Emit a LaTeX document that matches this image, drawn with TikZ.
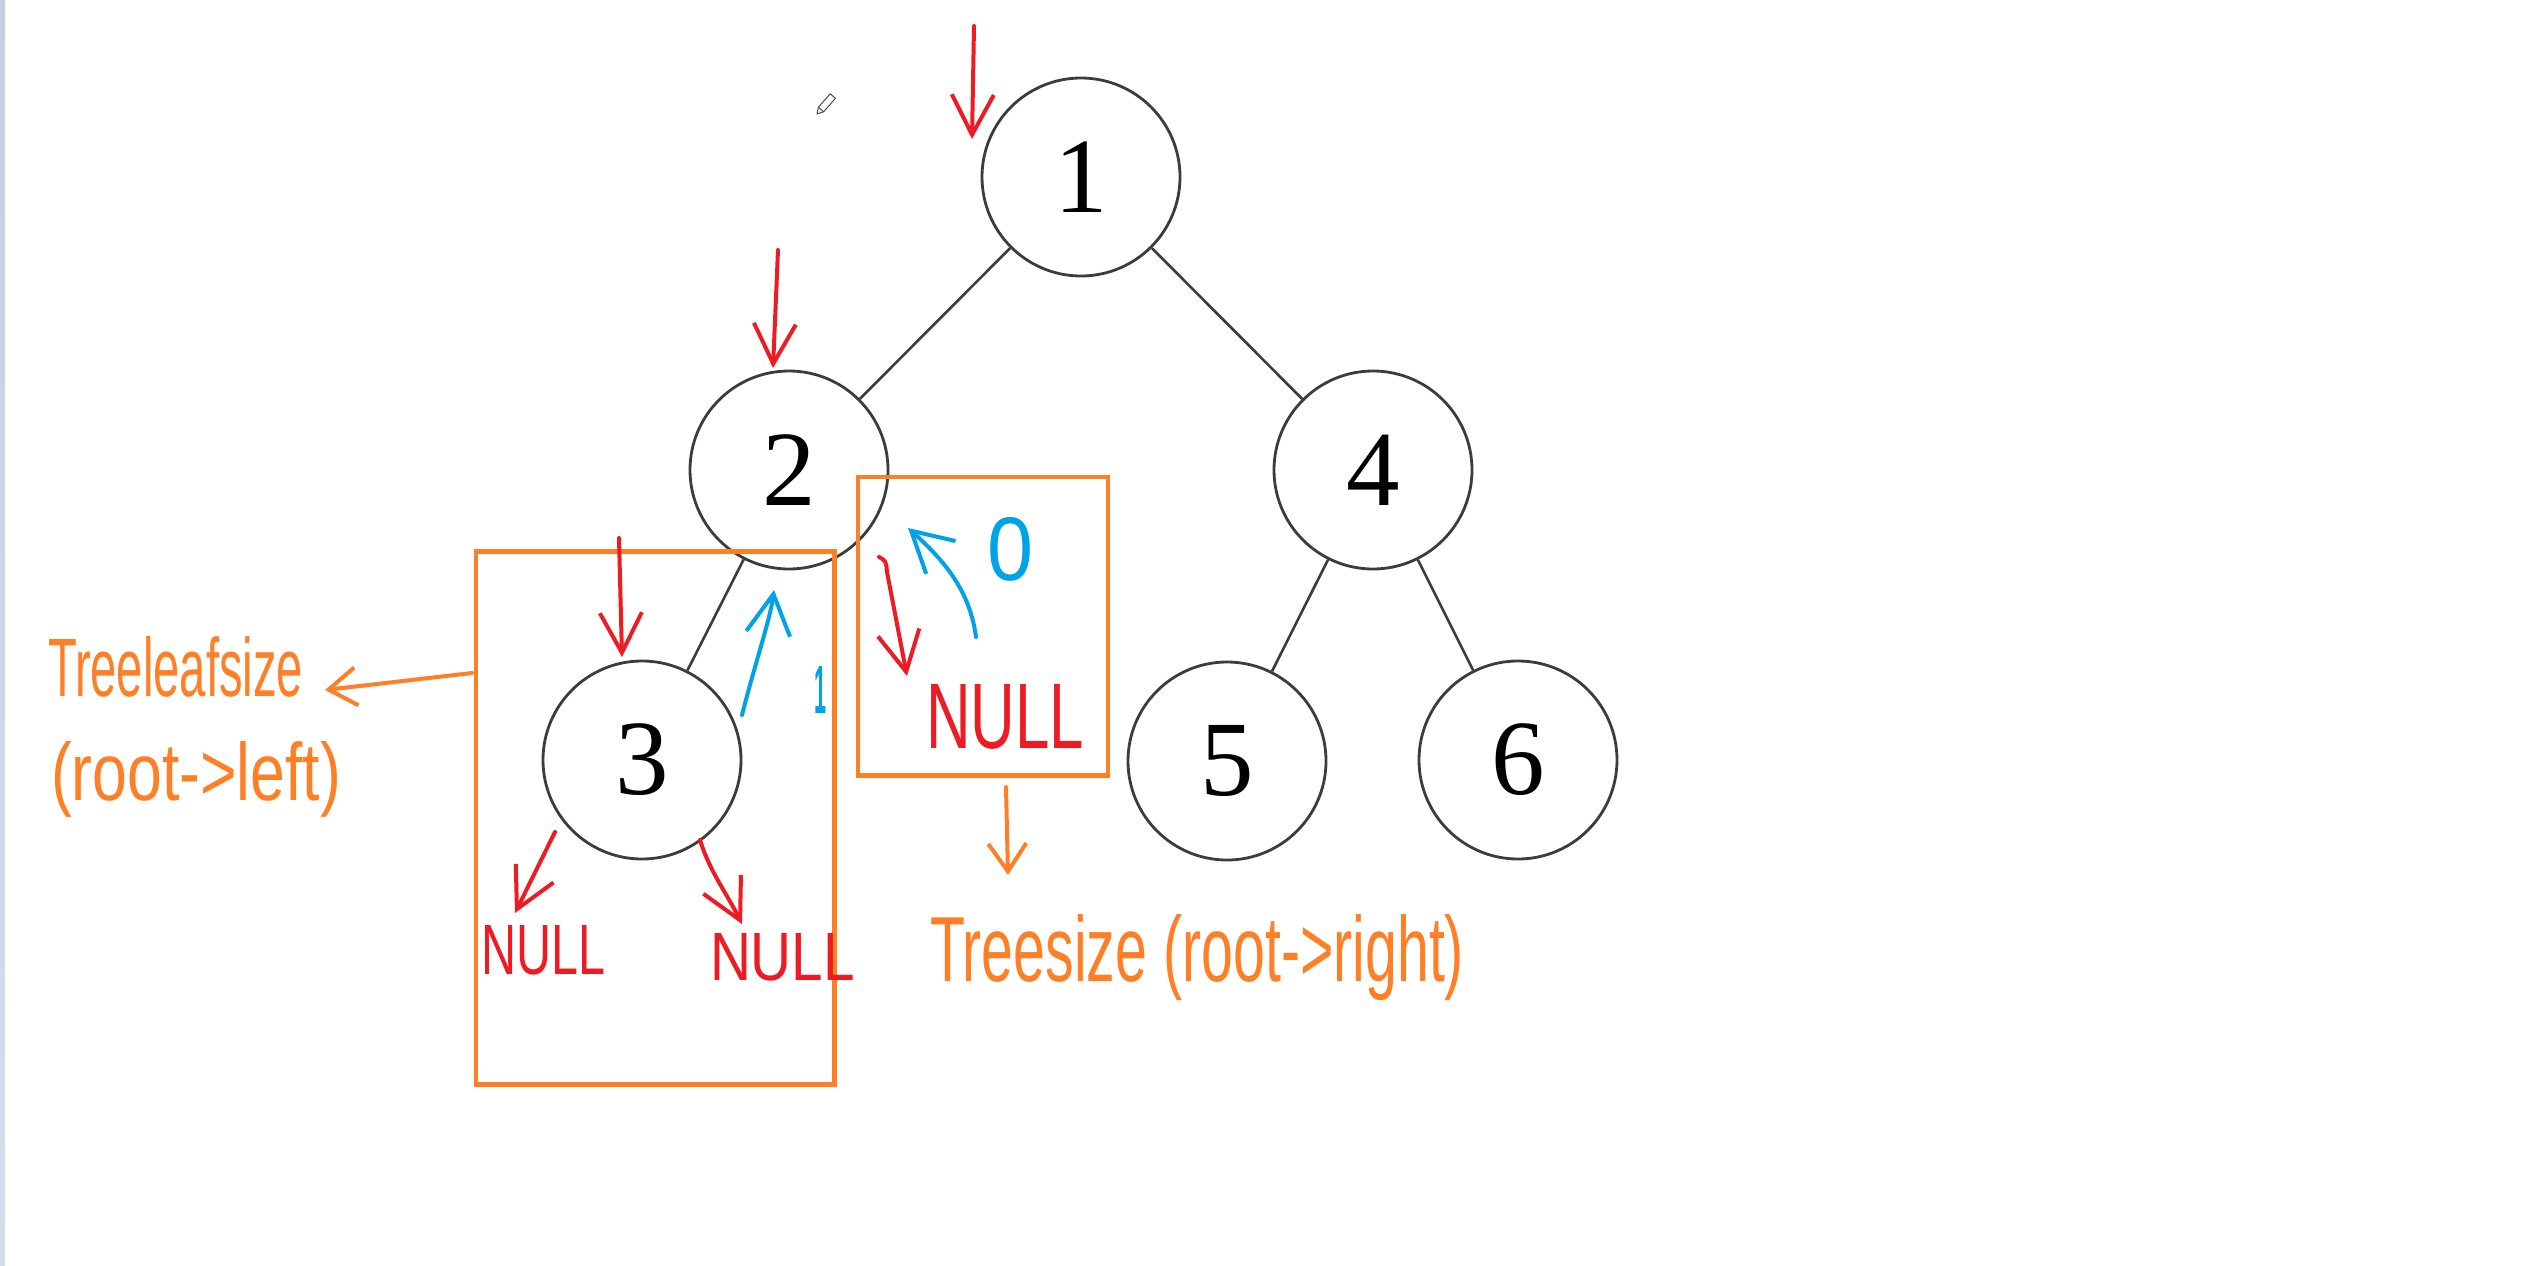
\documentclass[tikz,border=0pt]{standalone}
\usepackage{fontspec}
\usepackage{graphicx}
\setmainfont{Liberation Serif}
\newfontfamily\handfont{Liberation Sans}
\usetikzlibrary{arrows.meta}
\definecolor{penred}{RGB}{237,28,36}
\definecolor{penblue}{RGB}{0,162,232}
\definecolor{penorange}{RGB}{255,127,39}
\definecolor{treegray}{RGB}{60,60,60}
\definecolor{stripetop}{RGB}{197,207,224}
\definecolor{stripebot}{RGB}{214,222,235}
\begin{document}
\begin{tikzpicture}[x=1pt,y=-1pt,
  treenode/.style={circle, draw=treegray, line width=2.8pt, minimum size=198pt, inner sep=0pt,
    font=\fontsize{107}{120}\selectfont},
  edge/.style={draw=treegray, line width=2.6pt},
  obox/.style={draw=penorange, line width=4.8pt, inner sep=0pt},
  hand/.style={inner sep=0pt, outer sep=0pt, anchor=base west},
  redpen/.style={draw=penred, line width=4pt, line cap=round, line join=round,
    -{Straight Barb[length=40pt,width=42pt]}},
  bluepen/.style={draw=penblue, line width=4pt, line cap=round, line join=round,
    -{Straight Barb[length=40pt,width=44pt]}},
  orangepen/.style={draw=penorange, line width=4pt, line cap=round, line join=round,
    -{Straight Barb[length=28pt,width=38pt]}}]
\useasboundingbox (0,0) rectangle (2530,1266);
\fill[white] (0,0) rectangle (2530,1266);
\shade[top color=stripetop, bottom color=stripebot] (0,0) rectangle (5,1266);

% tree
\node[treenode] (n1) at (1081,177) {1};
\node[treenode] (n2) at (789,470) {2};
\node[treenode] (n4) at (1373,470) {4};
\node[treenode] (n3) at (642,760) {3};
\node[treenode] (n5) at (1227,761) {5};
\node[treenode] (n6) at (1518,760) {6};
\draw[edge] (n1) -- (n2);
\draw[edge] (n1) -- (n4);
\draw[edge] (n2) -- (n3);
\draw[edge] (n4) -- (n5);
\draw[edge] (n4) -- (n6);

% pencil cursor
\draw[draw=black!70, fill=white, line width=1pt, line join=round]
  (817,114) -- (823.6,111.8) -- (835.4,98.3) -- (830.2,93.7) -- (818.4,107.2) -- cycle;
\draw[draw=black!70, line width=1pt] (823.6,111.8) -- (818.4,107.2);

% orange boxes
\node[obox, minimum width=358.5pt, minimum height=533.5pt] (boxA) at (655.2,818.1) {};
\node[obox, minimum width=250pt, minimum height=298.6pt] (boxB) at (982.9,626.3) {};

% red pointer arrows
\coordinate (r1s) at (974,26);   \coordinate (r1e) at (972,139);
\coordinate (r2s) at (778,250);  \coordinate (r2e) at (773,368);
\coordinate (r3s) at (619,538);  \coordinate (r3e) at (622,657);
\draw[redpen] (r1s) -- (r1e);
\draw[redpen] (r2s) -- (r2e);
\draw[redpen] (r3s) -- (r3e);

% arrows from node 3 to NULLs
\coordinate (l3s) at (555,832);  \coordinate (l3e) at (515,913);
\coordinate (r3bs) at (700,840); \coordinate (r3be) at (742,924);
\draw[redpen] (l3s) -- (l3e);
\draw[redpen] (r3bs) .. controls (710,872) and (726,892) .. (r3be);

% blue return arrow from 3 to 2
\coordinate (b1s) at (742,715);  \coordinate (b1e) at (774,590);
\draw[bluepen] (b1s) .. controls (756,660) and (770,620) .. (b1e);

% box B arrows
\coordinate (rbs) at (879,557);  \coordinate (rbe) at (907,676);
\draw[redpen] (rbs) .. controls (886,561) .. (887,572) -- (rbe);
\coordinate (bbs) at (976,637);  \coordinate (bbe) at (908,528);
\draw[bluepen] (bbs) .. controls (970,592) and (946,562) .. (bbe);

% orange annotation arrows
\coordinate (oas) at (472,673);  \coordinate (oae) at (325,690);
\draw[orangepen] (oas) -- (oae);
\coordinate (obs) at (1006,787); \coordinate (obe) at (1008,875);
\draw[orangepen] (obs) -- (obe);

% handwritten texts
\node[hand, text=penorange] (t1) at (48,696) {\resizebox{255pt}{60pt}{\handfont Treeleafsize}};
\node[hand, text=penorange] (t2) at (51,800) {\resizebox{290pt}{59pt}{\handfont (root->left)}};
\node[hand, text=penorange] (t3) at (930,981) {\resizebox{534pt}{67pt}{\handfont Treesize (root->right)}};
\node[hand, text=penred] (nl1) at (481,974) {\resizebox{124pt}{49pt}{\handfont NULL}};
\node[hand, text=penred] (nl2) at (710,980) {\resizebox{145pt}{47pt}{\handfont NULL}};
\node[hand, text=penred] (nl3) at (926,748) {\resizebox{158pt}{64pt}{\handfont NULL}};
\node[hand, text=penblue] (z0) at (987,580) {\resizebox{46pt}{63pt}{\handfont 0}};
\node[hand, text=penblue] (z1) at (814,713) {\resizebox{12pt}{47pt}{\handfont\bfseries 1}};
\end{tikzpicture}
\end{document}
